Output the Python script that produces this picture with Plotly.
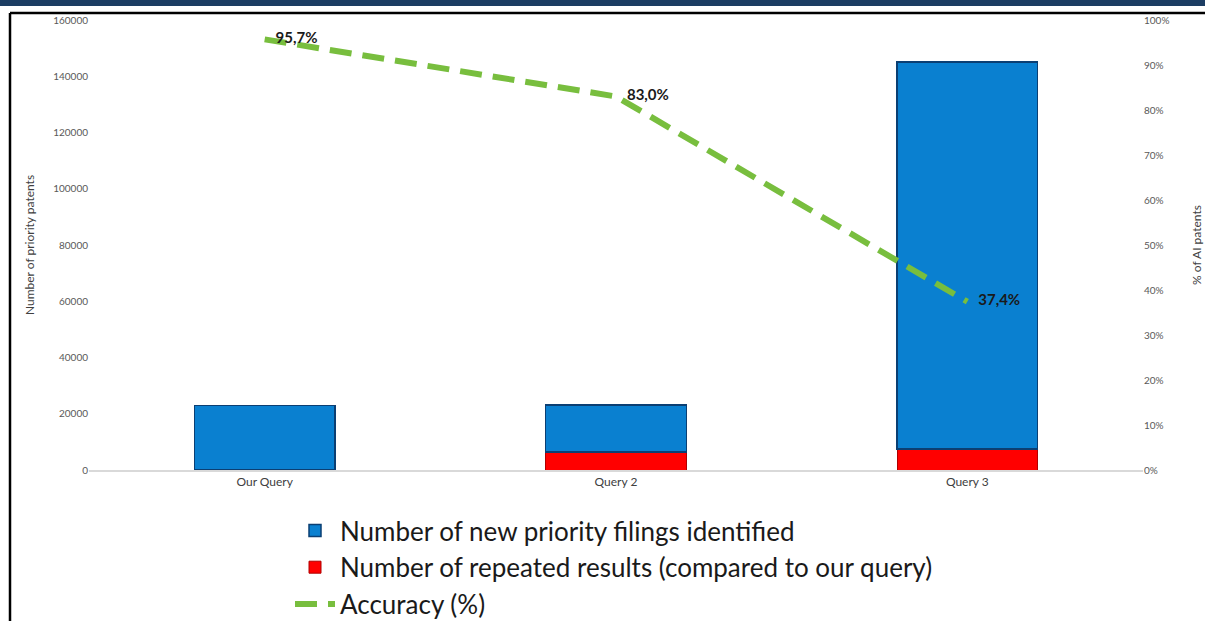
import plotly.graph_objects as go

categories = ["Our Query", "Query 2", "Query 3"]
new_filings = [23000, 16800, 137500]
repeated = [0, 6400, 7500]
accuracy = [95.7, 83.0, 37.4]
acc_labels = [("%.1f" % v).replace(".", ",") + "%" for v in accuracy]

FONT = "Lato, Open Sans, sans-serif"
W, H = 1205, 621
L, R, T, B = 89, 62, 20, 151

fig = go.Figure()
fig.add_trace(go.Bar(
    x=categories, y=repeated, name="Number of repeated results (compared to our query)",
    marker=dict(color="#FF0000", line=dict(color="#B00000", width=1)),
    legendrank=2, yaxis="y"))
fig.add_trace(go.Bar(
    x=categories, y=new_filings, name="Number of new priority filings identified",
    marker=dict(color="#0A80D0", line=dict(color="#0B3F73", width=1.5)),
    legendrank=1, yaxis="y"))
fig.add_trace(go.Scatter(
    x=categories, y=accuracy, name="Accuracy (%)", yaxis="y2",
    mode="lines+text", text=["   " + t for t in acc_labels],
    textposition="middle right",
    textfont=dict(family=FONT, size=15, color="#1a1a1a", weight="bold"),
    line=dict(color="#78BE3E", width=6, dash="22px,11px"),
    legendrank=3))

pw = W - L - R
ph = H - T - B
def px_x(x):
    return (x - L) / pw
def px_y(y):
    return (H - B - y) / ph

fig.update_layout(
    width=W, height=H,
    margin=dict(l=L, r=R, t=T, b=B, autoexpand=False),
    paper_bgcolor="white", plot_bgcolor="white",
    barmode="stack", bargap=0.6,
    font=dict(family=FONT, color="#595959"),
    xaxis=dict(showgrid=False, showline=True, linecolor="#D9D9D9", linewidth=1.5,
               ticks="", tickfont=dict(size=12, color="#404040")),
    yaxis=dict(range=[0, 160000], dtick=20000, tickformat="d", showgrid=False,
               zeroline=False, showline=False, ticks="",
               tickfont=dict(size=10, color="#595959"),
               title=dict(text="Number of priority patents", font=dict(size=12, color="#404040"))),
    yaxis2=dict(range=[0, 100], dtick=10, ticksuffix="%", overlaying="y", side="right",
                showgrid=False, zeroline=False, showline=False, ticks="",
                tickfont=dict(size=10, color="#595959"),
                title=dict(text="% of AI patents", font=dict(size=12, color="#404040"),
                           standoff=24)),
    legend=dict(x=px_x(290), y=px_y(507), xanchor="left", yanchor="top",
                traceorder="normal", orientation="v",
                font=dict(size=26, color="#1a1a1a"),
                bgcolor="rgba(0,0,0,0)", tracegroupgap=0, itemwidth=40),
    showlegend=True,
    shapes=[
        dict(type="rect", xref="paper", yref="paper", x0=px_x(-5), x1=px_x(W + 5),
             y0=px_y(6), y1=px_y(-5), fillcolor="#1C3D63", line=dict(width=0), layer="above"),
        dict(type="line", xref="paper", yref="paper", x0=px_x(10), x1=px_x(W + 5),
             y0=px_y(13), y1=px_y(13), line=dict(color="black", width=2.5)),
        dict(type="line", xref="paper", yref="paper", x0=px_x(10), x1=px_x(10),
             y0=px_y(13), y1=px_y(H + 5), line=dict(color="black", width=2.5)),
    ],
)

fig.write_html("out.html", config={"displayModeBar": False},
               post_script="document.body.style.margin='0px';")
